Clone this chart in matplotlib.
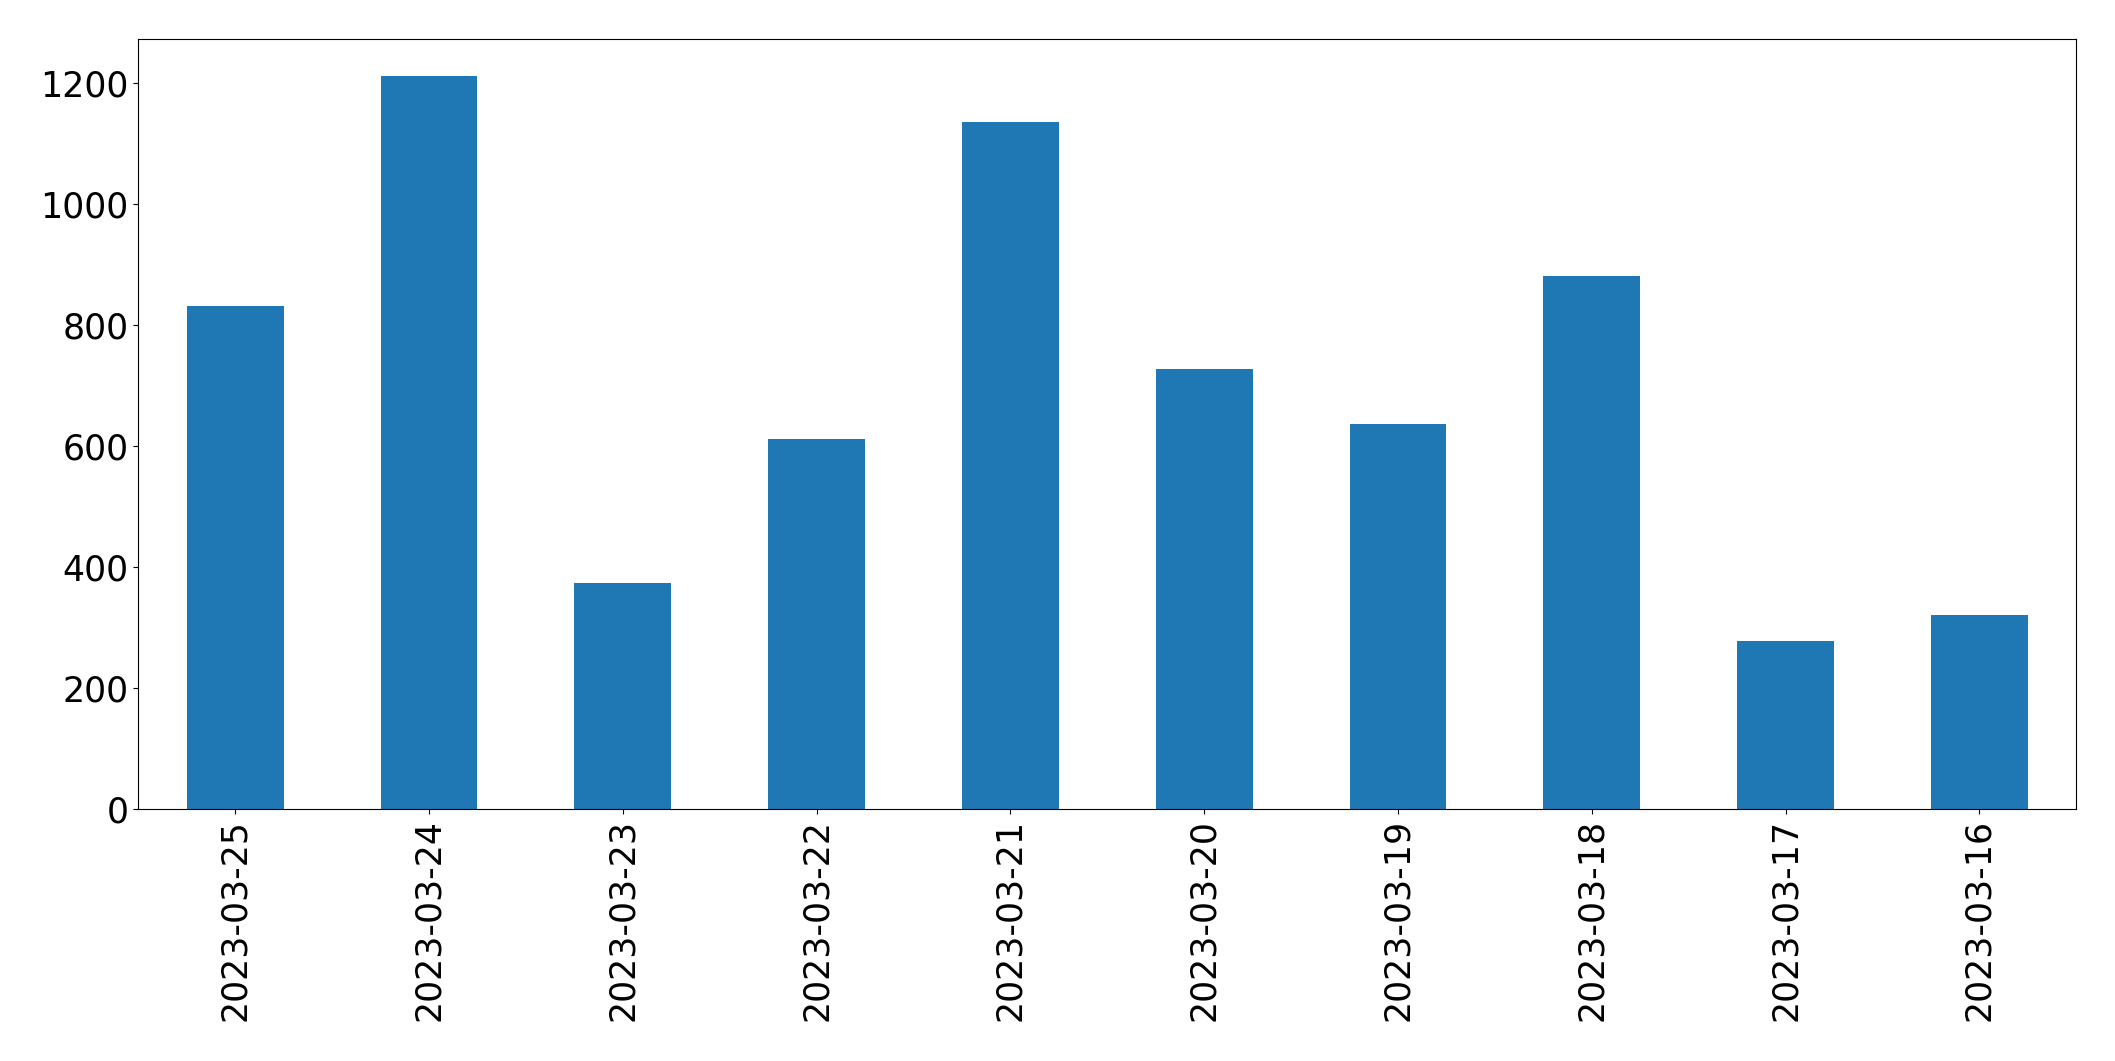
import matplotlib
matplotlib.use("Agg")
import matplotlib.pyplot as plt
import numpy as np

dates = ["2023-03-25", "2023-03-24", "2023-03-23", "2023-03-22", "2023-03-21",
         "2023-03-20", "2023-03-19", "2023-03-18", "2023-03-17", "2023-03-16"]
counts = [831, 1212, 374, 611, 1135, 727, 637, 881, 278, 321]

fig = plt.figure(figsize=(21.15, 10.61), dpi=100)
ax = fig.add_axes([0.0654, 0.2375, 0.9163, 0.7255])

x = np.arange(len(dates))
ax.bar(x, counts, 0.5, color="#1f77b4")
ax.set_xlim(-0.5, len(dates) - 0.5)
ax.set_xticks(x)
ax.set_xticklabels(dates, rotation=90)
ax.tick_params(axis="both", labelsize=25)

fig.savefig("out.png", dpi=100)
